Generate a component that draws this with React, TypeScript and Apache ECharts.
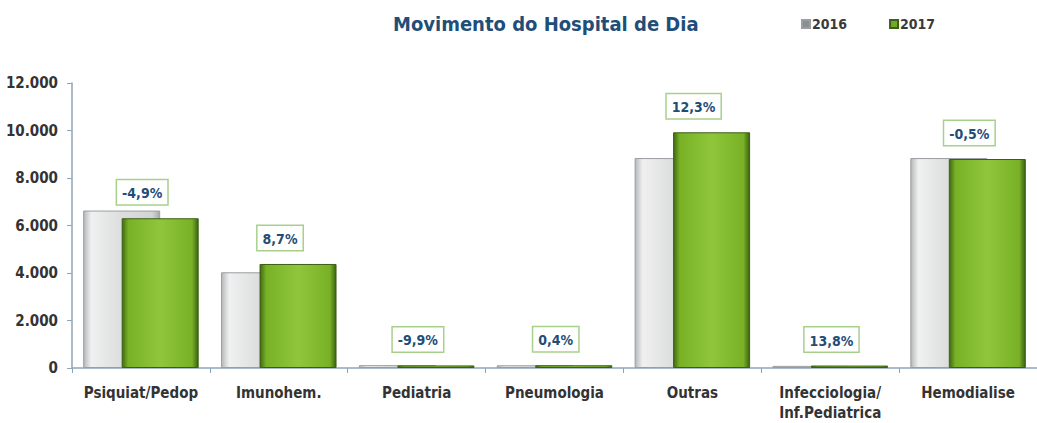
import React, { useEffect, useRef } from "react";
import * as echarts from "echarts";

const categories = [
  "Psiquiat/Pedop",
  "Imunohem.",
  "Pediatria",
  "Pneumologia",
  "Outras",
  "Infecciologia/\nInf.Pediatrica",
  "Hemodialise",
];
const values2016 = [6630, 4030, 120, 115, 8840, 90, 8840];
const values2017 = [6305, 4380, 108, 115, 9925, 102, 8800];
const changeLabels = ["-4,9%", "8,7%", "-9,9%", "0,4%", "12,3%", "13,8%", "-0,5%"];
const seriesNames = ["2016", "2017"];

const FONT = "'Liberation Sans Narrow', 'DejaVu Sans Condensed', 'Liberation Sans', sans-serif";

export default function App() {
  const ref = useRef<HTMLDivElement>(null);
  useEffect(() => {
    if (!ref.current) return;
    const chart = echarts.init(ref.current, null, { renderer: "svg" });
    const greenFill = new echarts.graphic.LinearGradient(0, 0, 1, 0, [
      { offset: 0, color: "#3f6a12" },
      { offset: 0.08, color: "#78b126" },
      { offset: 0.5, color: "#8fc63c" },
      { offset: 0.92, color: "#78b126" },
      { offset: 1, color: "#3a6210" },
    ]);
    const grayFill = new echarts.graphic.LinearGradient(0, 0, 1, 0, [
      { offset: 0, color: "#b5b8bb" },
      { offset: 0.1, color: "#f0f0f0" },
      { offset: 0.5, color: "#dcdddd" },
      { offset: 0.9, color: "#d3d4d5" },
      { offset: 1, color: "#a8abae" },
    ]);
    chart.setOption({
      animation: false,
      backgroundColor: "#ffffff",
      title: {
        text: "Movimento do Hospital de Dia",
        left: 388,
        top: 9,
        textStyle: { fontFamily: FONT, fontSize: 20, fontWeight: "bold", color: "#1f4e79" },
      },
      legend: {
        left: 796,
        top: 12,
        itemWidth: 8,
        itemHeight: 8,
        itemGap: 42,
        icon: "rect",
        data: [
          { name: seriesNames[0], itemStyle: { color: "#8a8f94" } },
          { name: seriesNames[1], itemStyle: { color: "#6fa82a" } },
        ],
        textStyle: { fontFamily: FONT, fontSize: 14, fontWeight: "bold", color: "#3a3a3a", padding: [0, 0, 0, -3] },
      },
      grid: { left: 72, right: -15, top: 83, bottom: 51 },
      xAxis: {
        type: "category",
        data: categories,
        axisLine: { lineStyle: { color: "#8ea6bb", width: 1.5 } },
        axisTick: { show: true, length: 5, lineStyle: { color: "#8ea6bb" } },
        axisLabel: {
          margin: 15,
          fontFamily: FONT,
          fontSize: 15,
          fontWeight: "bold",
          color: "#333333",
          lineHeight: 20,
          interval: 0,
        },
      },
      yAxis: {
        type: "value",
        min: 0,
        max: 12000,
        interval: 2000,
        splitLine: { show: false },
        axisLine: { show: true, lineStyle: { color: "#8ea6bb", width: 1.5 } },
        axisTick: { show: true, length: 5, lineStyle: { color: "#8ea6bb" } },
        axisLabel: {
          margin: 14,
          fontFamily: FONT,
          fontSize: 15,
          fontWeight: "bold",
          color: "#333333",
          formatter: (v: number) => v.toString().replace(/\B(?=(\d{3})+(?!\d))/g, "."),
        },
      },
      series: [
        {
          name: seriesNames[0],
          type: "bar",
          data: values2016,
          barWidth: 77,
          barGap: "-50%",
          itemStyle: { color: grayFill, borderColor: "#9a9ea2", borderWidth: 1 },
        },
        {
          name: seriesNames[1],
          type: "bar",
          data: values2017,
          barWidth: 77,
          itemStyle: { color: greenFill, borderColor: "#3d5f14", borderWidth: 1 },
          label: {
            show: true,
            position: "top",
            distance: 14,
            offset: [-18, 0],
            formatter: (p: any) => changeLabels[p.dataIndex],
            fontFamily: FONT,
            fontSize: 14,
            fontWeight: "bold",
            color: "#1f4e79",
            backgroundColor: "#ffffff",
            borderColor: "#a8d08d",
            borderWidth: 1.5,
            padding: [6, 5, 4, 5],
          },
        },
      ],
    });
    return () => chart.dispose();
  }, []);
  return (
    <div
      ref={ref}
      style={{ position: "absolute", left: 0, top: 0, width: 1037, height: 423 }}
    />
  );
}
